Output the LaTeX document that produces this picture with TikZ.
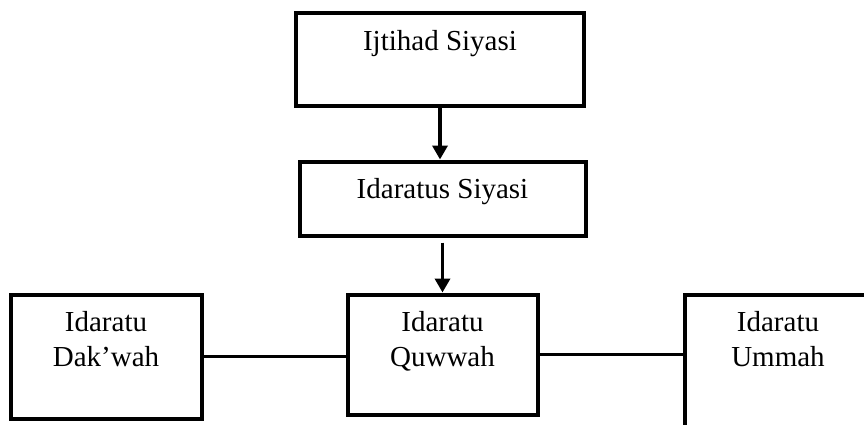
\documentclass[tikz,border=0pt]{standalone}
\usepackage{fontspec}
\setmainfont{Liberation Serif}
\usepackage{tikz}
\usetikzlibrary{arrows.meta, positioning}

\begin{document}
\begin{tikzpicture}[
    x=1pt, y=-1pt,
    box/.style={
        rectangle, draw=black, line width=4pt,
        inner sep=0pt, fill=white
    },
    txt/.style={inner sep=0pt, align=center,
        font=\fontsize{29}{35}\selectfont},
    arr/.style={-{Triangle[length=14pt, width=15pt]}, line width=3.5pt},
    link/.style={line width=3.5pt},
]
\useasboundingbox (0,0) rectangle (864,425);
\clip (0,0) rectangle (864,425);

%% ---- TOP ----
\node[box, minimum width=288pt, minimum height=93pt] (ijtihad) at (440,59.5) {};
\node[txt, below=40pt of ijtihad.north, anchor=base] (ijtlbl) {Ijtihad Siyasi};

\node[box, minimum width=286pt, minimum height=74pt] (siyasi) at (442.5,198.5) {};
\node[txt, below=39pt of siyasi.north, anchor=base] (siylbl) {Idaratus Siyasi};

%% ---- BOTTOM ROW ----
\node[box, minimum width=190pt, minimum height=120pt] (quwwah) at (442.5,354.5) {};
\node[txt, below=19pt of quwwah.north] (quwlbl) {Idaratu\\Quwwah};

\node[box, minimum width=191pt, minimum height=124pt] (dakwah) at (106,356.5) {};
\node[txt, below=19pt of dakwah.north] (daklbl) {Idaratu\\Dak’wah};

\node[box, minimum width=193pt, minimum height=145pt] (ummah) at (781,367) {};
\node[txt, below=19pt of ummah.north, xshift=-3pt] (ummlbl) {Idaratu\\Ummah};

%% ---- ARROWS ----
\draw[arr] (ijtihad.south) -- (ijtihad.south |- siyasi.north);
\draw[arr, shorten <=5pt] (siyasi.south) -- (siyasi.south |- quwwah.north);

%% ---- LINKS ----
\draw[link] (dakwah.east) -- (dakwah.east -| quwwah.west);
\draw[link] (quwwah.east) -- (quwwah.east -| ummah.west);

\end{tikzpicture}
\end{document}
